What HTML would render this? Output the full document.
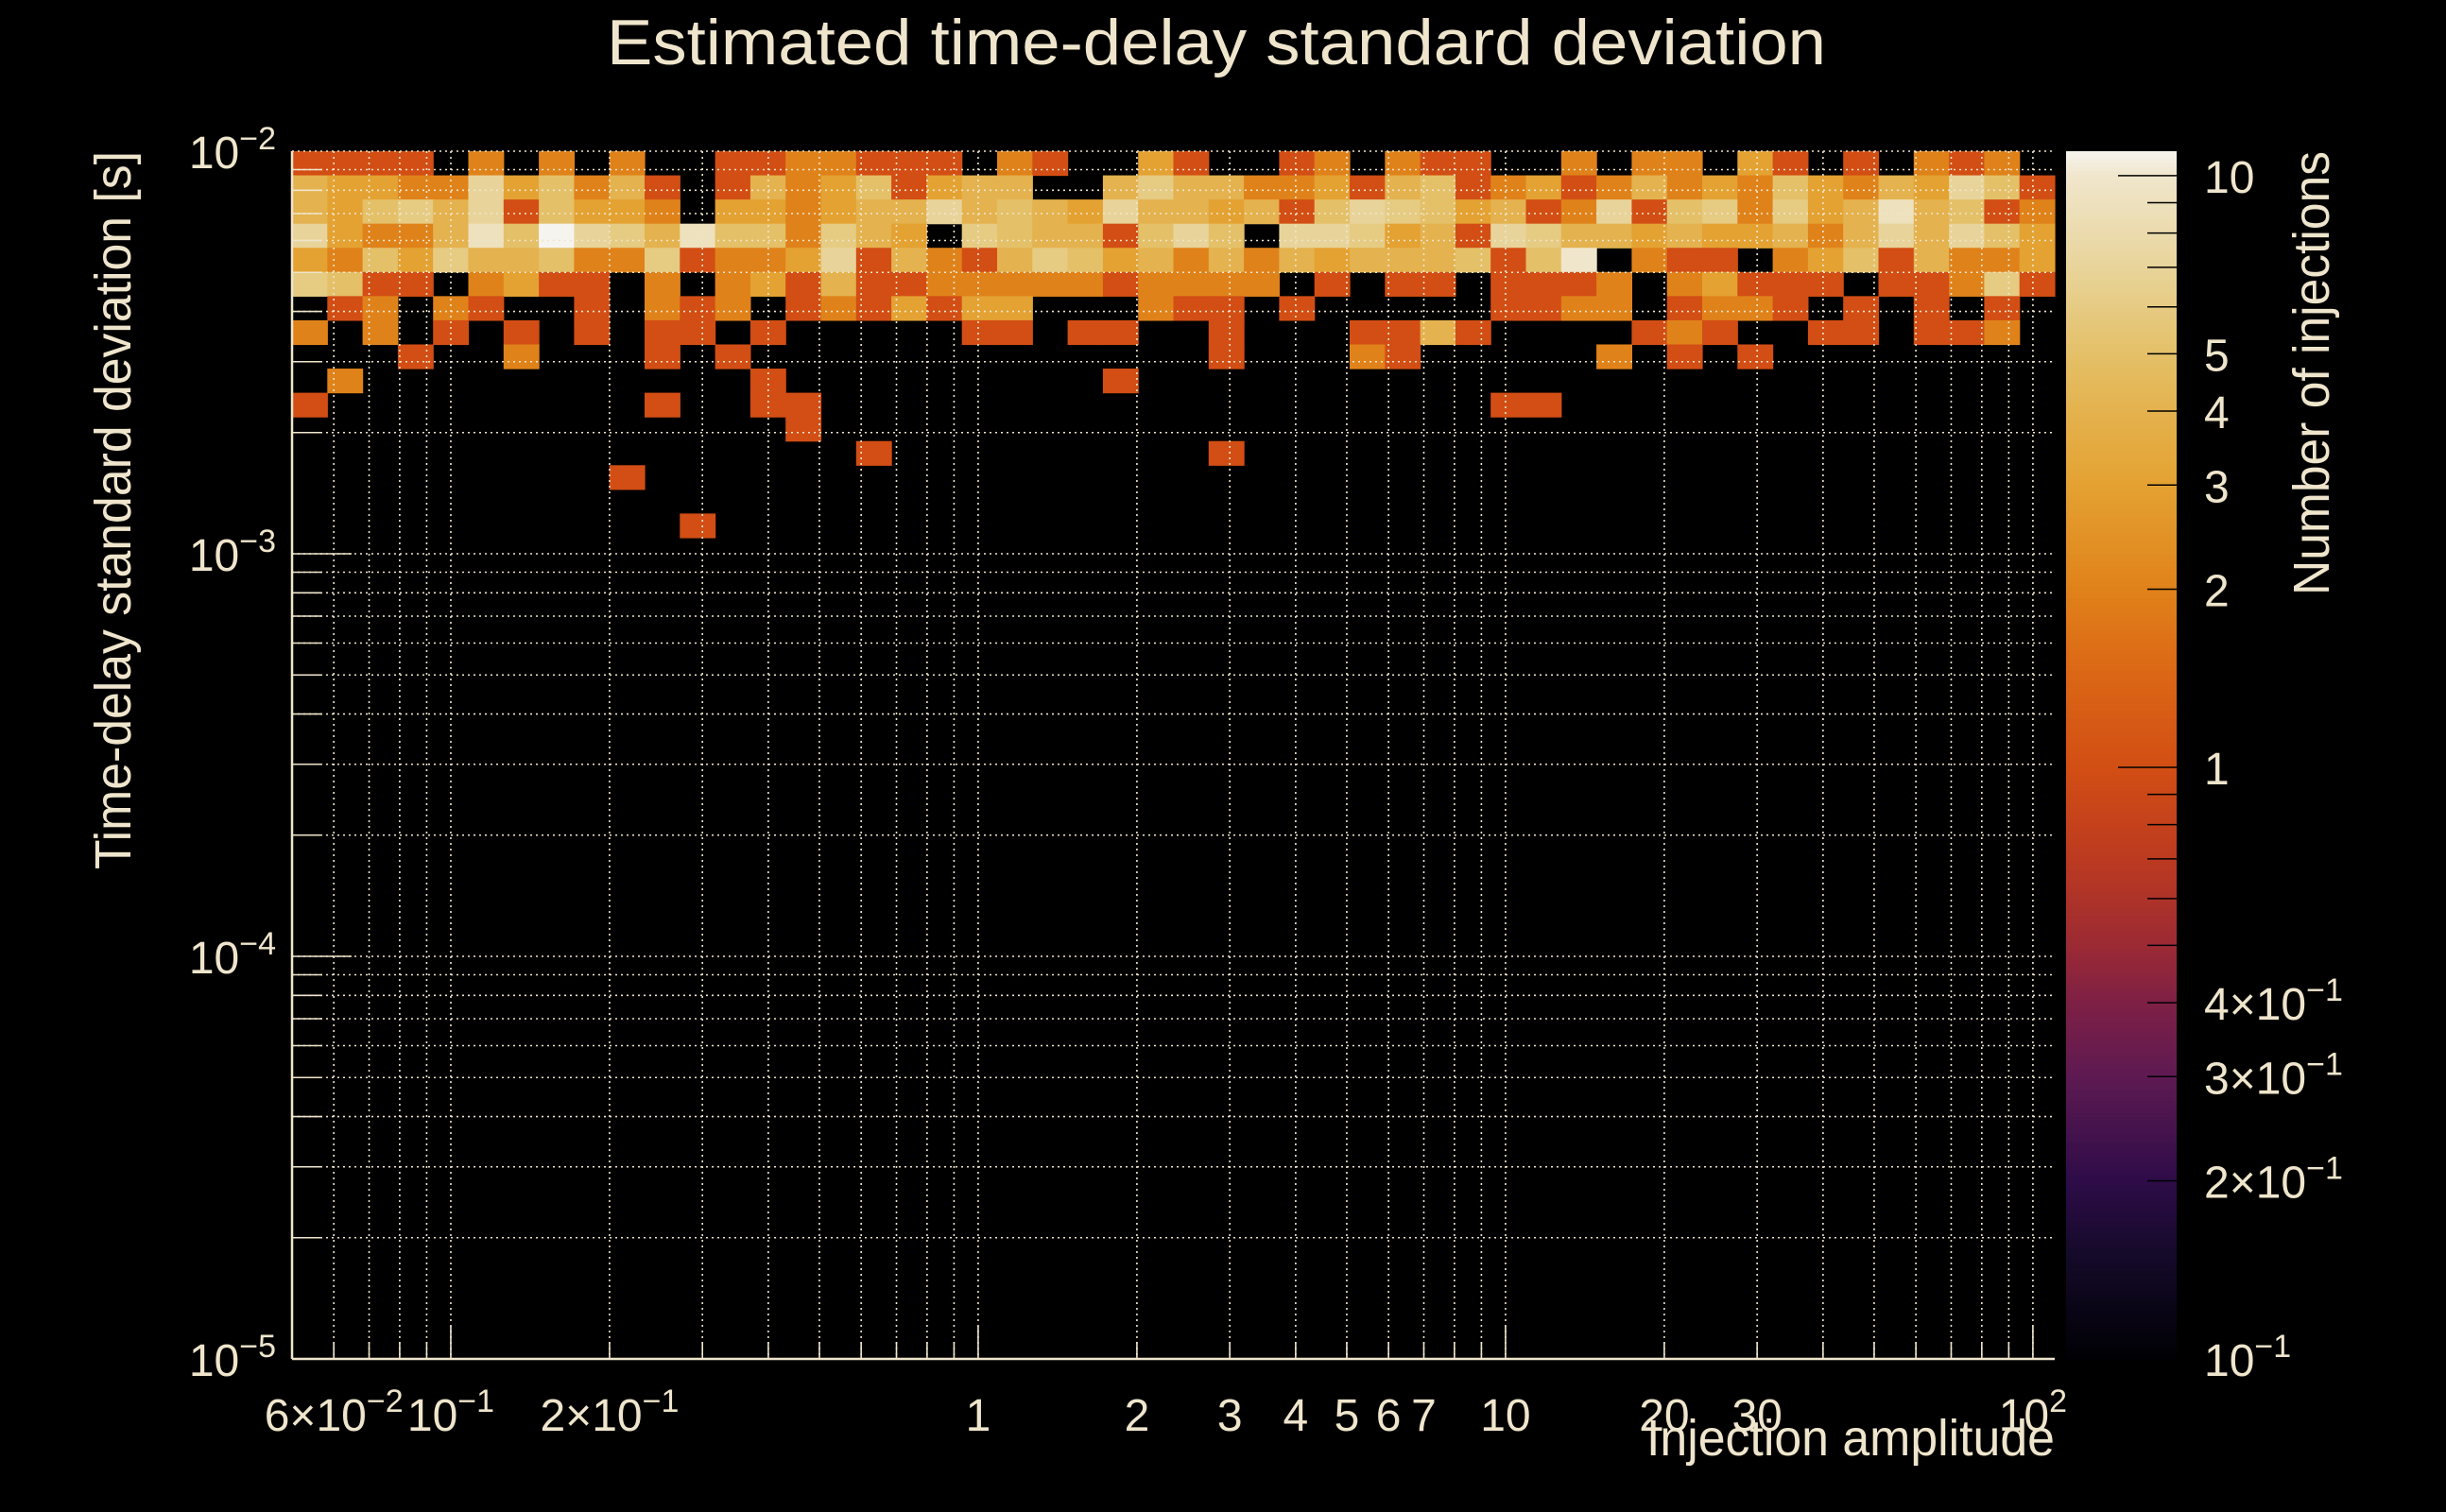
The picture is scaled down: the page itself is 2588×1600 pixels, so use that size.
<!DOCTYPE html>
<html><head><meta charset="utf-8"><title>Estimated time-delay standard deviation</title>
<style>
html,body{margin:0;padding:0;background:#000;}
svg{display:block;}
text{font-family:"Liberation Sans",sans-serif;fill:#efe5cc;}
</style></head>
<body>
<svg id="chart" xmlns="http://www.w3.org/2000/svg" width="2588" height="1600" viewBox="0 0 2588 1600">
<rect x="0" y="0" width="2588" height="1600" fill="#000"/>
<g id="cells"></g>
<g id="grid"></g>
<g id="axes"></g>
<g id="cbar"></g>
<text x="1287" y="68" font-size="68" text-anchor="middle" textLength="1290" lengthAdjust="spacingAndGlyphs">Estimated time-delay standard deviation</text>
<text x="0" y="0" font-size="54" text-anchor="middle" transform="translate(138,540) rotate(-90)" textLength="760" lengthAdjust="spacingAndGlyphs">Time-delay standard deviation [s]</text>
<text x="2174" y="1540" font-size="54" text-anchor="end" textLength="432" lengthAdjust="spacingAndGlyphs">Injection amplitude</text>
<text x="0" y="0" font-size="54" text-anchor="end" transform="translate(2464,160) rotate(-90)" textLength="470" lengthAdjust="spacingAndGlyphs">Number of injections</text>
</svg>
<script>
// ---- data (rows from top: row 0 = highest time-delay bin; 50 columns of injection amplitude bins)
const row0 = [1,1,1,1,0,2,0,2,0,2, 0,0,1,1,2,2,1,1,1,0, 2,1,0,0,3,1,0,0,1,2, 0,2,1,1,0,0,2,0,2,2, 0,3,1,0,1,0,2,1,2,0];
const row1 = [4,3,3,2,2,7,3,5,2,4, 1,0,1,4,2,3,5,1,3,4, 4,0,0,4,6,4,4,2,2,3, 1,4,5,1,2,3,1,2,4,2, 3,2,5,3,2,4,3,7,5,1];
const row2 = [4,3,5,6,4,7,1,5,3,3, 2,0,3,3,2,3,4,4,7,4, 5,4,3,7,4,4,3,4,1,5, 7,6,5,3,4,1,2,7,1,5, 6,2,6,3,4,9,4,5,1,2];
const row3 = [7,3,2,2,4,9,5,11,7,6, 4,9,5,5,2,6,4,3,0,6, 5,4,4,1,5,7,5,0,7,7, 6,3,4,1,7,6,4,4,3,4, 3,3,4,2,4,7,4,7,5,3];
const row4 = [3,2,5,3,6,4,4,5,2,2, 6,1,2,2,3,7,1,4,2,1, 4,6,5,3,4,2,4,2,4,3, 4,4,4,5,1,5,10,0,2,1, 1,0,2,3,5,1,4,2,2,3];
const row5 = [6,5,1,1,0,2,3,1,1,0, 2,0,2,3,1,4,1,1,2,2, 2,2,2,1,2,2,2,2,0,1, 0,1,1,0,1,1,1,2,0,2, 3,1,1,1,0,1,1,2,6,1];
const row6 = [0,1,2,0,2,1,0,0,1,0, 2,1,2,0,1,2,1,3,1,3, 3,0,0,0,2,1,1,0,1,0, 0,0,0,0,1,1,2,2,0,1, 2,2,1,0,1,0,1,0,1,0];
const row7 = [2,0,2,0,1,0,1,0,1,0, 1,1,0,1,0,0,0,0,0,1, 1,0,1,1,0,0,1,0,0,0, 1,1,4,1,0,0,0,0,1,2, 1,0,0,1,1,0,1,1,2,0];
const row8 = [0,0,0,1,0,0,2,0,0,0, 1,0,1,0,0,0,0,0,0,0, 0,0,0,0,0,0,1,0,0,0, 2,1,0,0,0,0,0,2,0,1, 0,1,0,0,0,0,0,0,0,0];
const row9 = [0,2,0,0,0,0,0,0,0,0, 0,0,0,1,0,0,0,0,0,0, 0,0,0,1,0,0,0,0,0,0, 0,0,0,0,0,0,0,0,0,0, 0,0,0,0,0,0,0,0,0,0];
const row10 = [1,0,0,0,0,0,0,0,0,0, 1,0,0,1,1,0,0,0,0,0, 0,0,0,0,0,0,0,0,0,0, 0,0,0,0,1,1,0,0,0,0, 0,0,0,0,0,0,0,0,0,0];
const row11 = [0,0,0,0,0,0,0,0,0,0, 0,0,0,0,1,0,0,0,0,0, 0,0,0,0,0,0,0,0,0,0, 0,0,0,0,0,0,0,0,0,0, 0,0,0,0,0,0,0,0,0,0];
const row12 = [0,0,0,0,0,0,0,0,0,0, 0,0,0,0,0,0,1,0,0,0, 0,0,0,0,0,0,1,0,0,0, 0,0,0,0,0,0,0,0,0,0, 0,0,0,0,0,0,0,0,0,0];
const row13 = [0,0,0,0,0,0,0,0,0,1, 0,0,0,0,0,0,0,0,0,0, 0,0,0,0,0,0,0,0,0,0, 0,0,0,0,0,0,0,0,0,0, 0,0,0,0,0,0,0,0,0,0];
const row14 = [0,0,0,0,0,0,0,0,0,0, 0,0,0,0,0,0,0,0,0,0, 0,0,0,0,0,0,0,0,0,0, 0,0,0,0,0,0,0,0,0,0, 0,0,0,0,0,0,0,0,0,0];
const row15 = [0,0,0,0,0,0,0,0,0,0, 0,1,0,0,0,0,0,0,0,0, 0,0,0,0,0,0,0,0,0,0, 0,0,0,0,0,0,0,0,0,0, 0,0,0,0,0,0,0,0,0,0];
const counts = [row0,row1,row2,row3,row4,row5,row6,row7,row8,row9,row10,row11,row12,row13,row14,row15];
const xRange = [0.05, 110];
const yRange = [1e-5, 1e-2];
const nXBins = 50;
const nYBins = 50;
const zRange = [0.1, 11];
const xTickValues = [0.06, 0.1, 0.2, 1, 2, 3, 4, 5, 6, 7, 10, 20, 30, 100];
const xTickLabels = [["6\u00d710","\u22122"],["10","\u22121"],["2\u00d710","\u22121"],["1",""],["2",""],["3",""],["4",""],["5",""],["6",""],["7",""],["10",""],["20",""],["30",""],["10","2"]];
const yTickValues = [1e-2, 1e-3, 1e-4, 1e-5];
const yTickLabels = [["10","\u22122"],["10","\u22123"],["10","\u22124"],["10","\u22125"]];
const zTickValues = [10, 5, 4, 3, 2, 1, 0.4, 0.3, 0.2, 0.1];
const zTickLabels = [["10",""],["5",""],["4",""],["3",""],["2",""],["1",""],["4\u00d710","\u22121"],["3\u00d710","\u22121"],["2\u00d710","\u22121"],["10","\u22121"]];

// ---- layout
const L = 309, R = 2174, T = 160, B = 1438;
const CBL = 2186, CBR = 2303;
const NS = "http://www.w3.org/2000/svg";
const lg = Math.log10;
function xPix(v){ return L + (lg(v)-lg(xRange[0]))/(lg(xRange[1])-lg(xRange[0]))*(R-L); }
function yPix(v){ return B - (lg(v)-lg(yRange[0]))/(lg(yRange[1])-lg(yRange[0]))*(B-T); }
function zPix(v){ return B - (lg(v)-lg(zRange[0]))/(lg(zRange[1])-lg(zRange[0]))*(B-T); }
function xEdge(i){ return Math.pow(10, lg(xRange[0]) + i*(lg(xRange[1])-lg(xRange[0]))/nXBins); }
function yEdge(j){ return Math.pow(10, lg(yRange[1]) - j*(lg(yRange[1])-lg(yRange[0]))/nYBins); }

const stopsV = [0.1,0.15,0.2,0.3,0.4,0.5,0.7,1,1.5,2,3,4,5,7,10,11];
const stopsC = ["#000004","#150a2a","#2e0c48","#5e1a52","#7e2045","#9c2a34","#bc3a20","#d24e14","#dc6a16","#e0821a","#e4a232","#e4b24e","#e4c068","#e8d49a","#f0e6cc","#f6f4ef"];
function hex(c){return [parseInt(c.slice(1,3),16),parseInt(c.slice(3,5),16),parseInt(c.slice(5,7),16)];}
function cmap(v){
  if(v<=stopsV[0]) return stopsC[0];
  for(let i=1;i<stopsV.length;i++){
    if(v<=stopsV[i]){
      const t=(lg(v)-lg(stopsV[i-1]))/(lg(stopsV[i])-lg(stopsV[i-1]));
      const a=hex(stopsC[i-1]), b=hex(stopsC[i]);
      return "rgb("+a.map((x,k)=>Math.round(x+(b[k]-x)*t)).join(",")+")";
    }
  }
  return stopsC[stopsC.length-1];
}
function mk(tag, attrs, parent){
  const e=document.createElementNS(NS,tag);
  for(const k in attrs) e.setAttribute(k, attrs[k]);
  parent.appendChild(e); return e;
}

// ---- cells
const gCells=document.getElementById('cells');
counts.forEach((row,j)=>{
  row.forEach((v,i)=>{
    if(v<=0) return;
    const x0=xPix(xEdge(i)), x1=xPix(xEdge(i+1));
    const y0=yPix(yEdge(j)), y1=yPix(yEdge(j+1));
    const r=mk('rect',{x:x0.toFixed(2),y:y0.toFixed(2),width:(x1-x0+0.6).toFixed(2),height:(y1-y0+0.6).toFixed(2),fill:cmap(v)},gCells);
    
    
  });
});

// ---- grid and ticks
const gGrid=document.getElementById('grid');
const gAxes=document.getElementById('axes');
const gridCol="#efe5cc";
for(let e=-2;e<=2;e++){
  for(let m=1;m<=9;m++){
    const v=m*Math.pow(10,e);
    if(v<xRange[0]||v>xRange[1]) continue;
    const x=xPix(v);
    const gl=mk('line',{x1:x,y1:T,x2:x,y2:B,stroke:gridCol,'stroke-width':1.6,'stroke-dasharray':'2 4'},gGrid);
    
    
    const tk=mk('line',{x1:x,y1:B,x2:x,y2:B-(m===1?35:18),stroke:gridCol,'stroke-width':1.6},gAxes);
    
    
  }
}
for(let e=-5;e<=-3;e++){
  for(let m=1;m<=9;m++){
    const v=m*Math.pow(10,e);
    const y=yPix(v);
    const gl=mk('line',{x1:L,y1:y,x2:R,y2:y,stroke:gridCol,'stroke-width':1.6,'stroke-dasharray':'2 4'},gGrid);
    
    
    const tk=mk('line',{x1:L,y1:y,x2:L+(m===1?63:32),y2:y,stroke:gridCol,'stroke-width':1.6},gAxes);
    
    
  }
}
{
  const tg=mk('line',{x1:L,y1:T,x2:R,y2:T,stroke:gridCol,'stroke-width':1.6,'stroke-dasharray':'2 4'},gGrid);
  
  
  const ax=mk('line',{x1:L,y1:B,x2:R,y2:B,stroke:gridCol,'stroke-width':2.5},gAxes);
  
  
  const ay=mk('line',{x1:L,y1:T,x2:L,y2:B,stroke:gridCol,'stroke-width':2.5},gAxes);
  
  
}
function label(parent, x, y, parts, anchor, name){
  const t=mk('text',{x:x,y:y,'font-size':48,'text-anchor':anchor},parent);
  
  
  const a=document.createElementNS(NS,'tspan'); a.textContent=parts[0]; t.appendChild(a);
  if(parts[1]){
    const s=document.createElementNS(NS,'tspan');
    s.setAttribute('font-size','34'); s.setAttribute('dy','-20');
    s.textContent=parts[1]; t.appendChild(s);
  }
  return t;
}
xTickValues.forEach((v,i)=>{ label(gAxes, xPix(v), 1514, xTickLabels[i], 'middle', 'x-tick-label'); });
yTickValues.forEach((v,i)=>{ label(gAxes, 292, yPix(v)+18, yTickLabels[i], 'end', 'y-tick-label'); });

// ---- colorbar
const gCb=document.getElementById('cbar');
const nStrips=300;
for(let k=0;k<nStrips;k++){
  const y0=T+(B-T)*k/nStrips, y1=T+(B-T)*(k+1)/nStrips;
  const vv=Math.pow(10, lg(zRange[1]) - (k+0.5)/nStrips*(lg(zRange[1])-lg(zRange[0])));
  const s=mk('rect',{x:CBL,y:y0.toFixed(2),width:CBR-CBL,height:(y1-y0+0.8).toFixed(2),fill:cmap(vv)},gCb);
  
  
}
[0.2,0.3,0.4,0.5,0.6,0.7,0.8,0.9,1,2,3,4,5,6,7,8,9,10].forEach(v=>{
  const y=zPix(v);
  const major=(v===1||v===10);
  const tk=mk('line',{x1:CBR,y1:y,x2:CBR-(major?62:31),y2:y,stroke:'#000','stroke-width':1.5},gCb);
  
  
});
zTickValues.forEach((v,i)=>{ label(gCb, 2332, zPix(v)+18, zTickLabels[i], 'start', 'colorbar-tick-label'); });
</script>
</body></html>
